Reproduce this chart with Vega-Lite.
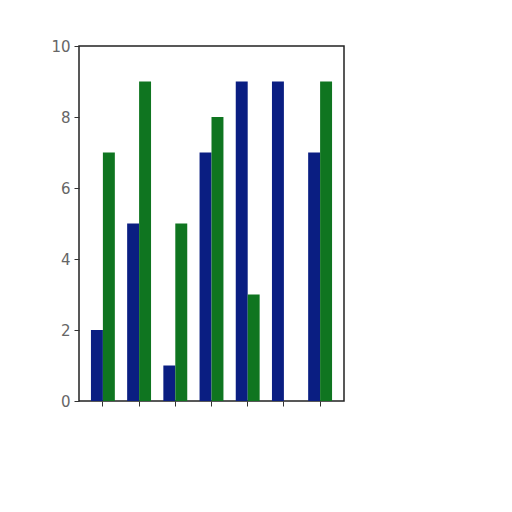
{
  "$schema": "https://vega.github.io/schema/vega-lite/v6.json",
  "autosize": "none",
  "padding": {"left": 79, "top": 46, "right": 168, "bottom": 111},
  "width": 265,
  "height": 355,
  "background": "white",
  "config": {
    "view": {"stroke": "#222", "strokeWidth": 1.5},
    "axis": {"grid": false, "domain": false, "labelFont": "DejaVu Sans", "labelFontSize": 15, "labelColor": "#666", "tickColor": "#333", "tickSize": 5}
  },
  "data": {
    "values": [
      {"group": "1", "series": "a", "value": 2},
      {"group": "1", "series": "b", "value": 7},
      {"group": "2", "series": "a", "value": 5},
      {"group": "2", "series": "b", "value": 9},
      {"group": "3", "series": "a", "value": 1},
      {"group": "3", "series": "b", "value": 5},
      {"group": "4", "series": "a", "value": 7},
      {"group": "4", "series": "b", "value": 8},
      {"group": "5", "series": "a", "value": 9},
      {"group": "5", "series": "b", "value": 3},
      {"group": "6", "series": "a", "value": 9},
      {"group": "6", "series": "b", "value": 0},
      {"group": "7", "series": "a", "value": 7},
      {"group": "7", "series": "b", "value": 9}
    ]
  },
  "mark": {"type": "bar"},
  "encoding": {
    "x": {
      "field": "group",
      "type": "nominal",
      "scale": {"paddingInner": 0.34, "paddingOuter": 0.33},
      "axis": {"labels": false, "title": null, "ticks": true}
    },
    "xOffset": {"field": "series", "type": "nominal", "scale": {"paddingInner": 0, "paddingOuter": 0}},
    "y": {
      "field": "value",
      "type": "quantitative",
      "scale": {"domain": [0, 10], "nice": false},
      "axis": {"values": [0, 2, 4, 6, 8, 10], "title": null, "labelPadding": 4}
    },
    "color": {
      "field": "series",
      "type": "nominal",
      "scale": {"domain": ["a", "b"], "range": ["#0a1e82", "#0f7520"]},
      "legend": null
    }
  }
}
